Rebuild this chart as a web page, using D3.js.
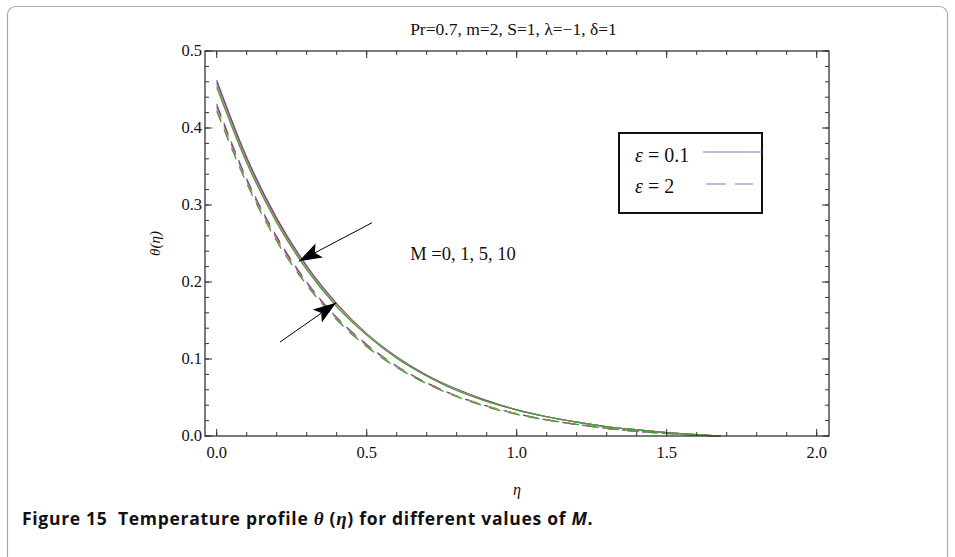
<!DOCTYPE html>
<html>
<head>
<meta charset="utf-8">
<script src="https://cdn.jsdelivr.net/npm/d3@7"></script>
<style>
  body { margin: 0; background: #fff; }
  svg text { fill: #111; }
</style>
</head>
<body>
<div id="container"></div>
<script>
// eta grid shared by all curves
var eta = [0, 0.1, 0.2, 0.3, 0.4, 0.5, 0.6, 0.7, 0.8, 0.9, 1.0, 1.1, 1.2, 1.3, 1.4, 1.5, 1.6, 1.68];

// epsilon = 0.1 (solid), M = 0, 1, 5, 10
var solidM0  = [0.462, 0.362, 0.283, 0.221, 0.172, 0.133, 0.103, 0.079, 0.061, 0.046, 0.034, 0.025, 0.018, 0.012, 0.008, 0.0045, 0.0018, 0];
var solidM1  = [0.459, 0.360, 0.281, 0.219, 0.171, 0.132, 0.102, 0.079, 0.060, 0.046, 0.034, 0.025, 0.018, 0.012, 0.008, 0.0045, 0.0018, 0];
var solidM5  = [0.456, 0.357, 0.279, 0.218, 0.170, 0.132, 0.102, 0.078, 0.060, 0.045, 0.034, 0.025, 0.018, 0.012, 0.008, 0.0044, 0.0018, 0];
var solidM10 = [0.453, 0.355, 0.277, 0.216, 0.168, 0.131, 0.101, 0.078, 0.059, 0.045, 0.034, 0.025, 0.018, 0.012, 0.008, 0.0044, 0.0018, 0];

// epsilon = 2 (dashed), M = 0, 1, 5, 10
var dashM0  = [0.431, 0.334, 0.259, 0.200, 0.154, 0.119, 0.091, 0.069, 0.052, 0.039, 0.029, 0.021, 0.015, 0.010, 0.006, 0.0034, 0.0011, 0];
var dashM1  = [0.428, 0.332, 0.257, 0.199, 0.153, 0.118, 0.090, 0.069, 0.052, 0.039, 0.029, 0.021, 0.015, 0.010, 0.006, 0.0034, 0.0011, 0];
var dashM5  = [0.425, 0.330, 0.255, 0.197, 0.152, 0.117, 0.090, 0.068, 0.052, 0.039, 0.029, 0.021, 0.015, 0.010, 0.006, 0.0033, 0.0011, 0];
var dashM10 = [0.422, 0.328, 0.253, 0.196, 0.151, 0.116, 0.089, 0.068, 0.051, 0.038, 0.028, 0.021, 0.015, 0.010, 0.006, 0.0033, 0.0011, 0];

var xMajor = [0, 0.5, 1.0, 1.5, 2.0];
var xLabels = ["0.0", "0.5", "1.0", "1.5", "2.0"];
var yMajor = [0, 0.1, 0.2, 0.3, 0.4, 0.5];
var yLabels = ["0.0", "0.1", "0.2", "0.3", "0.4", "0.5"];

var legendLabels = ["0.1", "2"];
var annotation = "M =0, 1, 5, 10";
var title = "Pr=0.7, m=2, S=1, \u03bb=\u22121, \u03b4=1";

var colors = ["#5b4fb8", "#a8386a", "#c8a46a", "#3d9a3d"];

var width = 955, height = 557;
var frame = { left: 205, right: 829, top: 51, bottom: 436 };

var svg = d3.select('#container')
  .append('svg')
  .attr('width', width)
  .attr('height', height)
  .style('font-family', '"Liberation Serif", "Times New Roman", serif');

// outer figure box
svg.append('rect')
  .attr('x', 7.5).attr('y', 6.5)
  .attr('width', 940).attr('height', 560)
  .attr('rx', 8)
  .attr('fill', 'none')
  .attr('stroke', '#aaa')
  .attr('stroke-width', 1.2);

var x = d3.scaleLinear()
  .domain([-0.039, 2.041])
  .range([frame.left, frame.right]);

var y = d3.scaleLinear()
  .domain([0, 0.5])
  .range([frame.bottom, frame.top]);

var plot = svg.append('g');

// curves
var line = d3.line()
  .x((d, i) => x(eta[i]))
  .y(d => y(d))
  .curve(d3.curveMonotoneX);

var solids = [solidM0, solidM1, solidM5, solidM10];
var dashes = [dashM0, dashM1, dashM5, dashM10];

plot.selectAll('.dashed')
  .data(dashes)
  .join('path')
  .attr('class', 'dashed')
  .attr('d', d => line(d))
  .attr('fill', 'none')
  .attr('stroke', (d, i) => colors[i])
  .attr('stroke-width', 1.2)
  .attr('stroke-dasharray', '12,8');

plot.selectAll('.solid')
  .data(solids)
  .join('path')
  .attr('class', 'solid')
  .attr('d', d => line(d))
  .attr('fill', 'none')
  .attr('stroke', (d, i) => colors[i])
  .attr('stroke-width', 1.2);

// frame with inward ticks on all sides
var tickColor = '#333';
var xMinor = d3.range(0, 21).map(i => i / 10);
var yMinor = d3.range(0, 26).map(i => i / 50);

function drawTicks(g, vals, len, side) {
  g.selectAll(null)
    .data(vals)
    .join('line')
    .attr('x1', d => side == 'b' || side == 't' ? x(d) : (side == 'l' ? frame.left : frame.right))
    .attr('x2', d => side == 'b' || side == 't' ? x(d) : (side == 'l' ? frame.left + len : frame.right - len))
    .attr('y1', d => side == 'l' || side == 'r' ? y(d) : (side == 'b' ? frame.bottom : frame.top))
    .attr('y2', d => side == 'l' || side == 'r' ? y(d) : (side == 'b' ? frame.bottom - len : frame.top + len))
    .attr('stroke', tickColor)
    .attr('stroke-width', 1);
}

var ticks = plot.append('g');
['b', 't'].forEach(s => { drawTicks(ticks, xMinor, 4, s); drawTicks(ticks, xMajor, 7, s); });
['l', 'r'].forEach(s => { drawTicks(ticks, yMinor, 4, s); drawTicks(ticks, yMajor, 7, s); });

plot.append('rect')
  .attr('x', frame.left).attr('y', frame.top)
  .attr('width', frame.right - frame.left)
  .attr('height', frame.bottom - frame.top)
  .attr('fill', 'none')
  .attr('stroke', '#333')
  .attr('stroke-width', 1.3);

// tick labels
plot.selectAll('.xlab')
  .data(xMajor)
  .join('text')
  .attr('class', 'xlab')
  .attr('x', d => x(d))
  .attr('y', frame.bottom + 22)
  .attr('text-anchor', 'middle')
  .attr('font-size', 16.5)
  .text((d, i) => xLabels[i]);

plot.selectAll('.ylab')
  .data(yMajor)
  .join('text')
  .attr('class', 'ylab')
  .attr('x', frame.left - 3)
  .attr('y', d => y(d) + 5)
  .attr('text-anchor', 'end')
  .attr('font-size', 16.5)
  .text((d, i) => yLabels[i]);

// axis titles
svg.append('text')
  .attr('x', (frame.left + frame.right) / 2)
  .attr('y', 495)
  .attr('text-anchor', 'middle')
  .attr('font-size', 16)
  .attr('font-style', 'italic')
  .text('\u03b7');

svg.append('text')
  .attr('transform', `translate(160, ${(frame.top + frame.bottom) / 2}) rotate(-90)`)
  .attr('text-anchor', 'middle')
  .attr('font-size', 15)
  .attr('font-style', 'italic')
  .text('\u03b8(\u03b7)');

svg.append('text')
  .attr('x', 513.5)
  .attr('y', 35)
  .attr('text-anchor', 'middle')
  .attr('font-size', 17.5)
  .text(title);

// legend
var legend = svg.append('g').attr('transform', 'translate(619,133)');
legend.append('rect')
  .attr('width', 143).attr('height', 80)
  .attr('fill', '#fff')
  .attr('stroke', '#111')
  .attr('stroke-width', 2);

legendLabels.forEach((lab, i) => {
  var t = legend.append('text')
    .attr('x', 16)
    .attr('y', 29 + i * 31)
    .attr('font-size', 20)
    .attr('xml:space', 'preserve');
  t.append('tspan').attr('font-style', 'italic').text('\u03b5');
  t.append('tspan').text(' = ' + lab);
  legend.append('line')
    .attr('x1', i == 0 ? 84 : 87).attr('x2', i == 0 ? 143 : 134)
    .attr('y1', 19 + i * 32).attr('y2', 19 + i * 32)
    .attr('stroke', '#7b74c4')
    .attr('stroke-width', 1.2)
    .attr('stroke-dasharray', i == 0 ? null : '20,9');
});

// annotation + arrows
var defs = svg.append('defs');
defs.append('marker')
  .attr('id', 'head')
  .attr('markerUnits', 'userSpaceOnUse')
  .attr('viewBox', '-24 -10 26 20')
  .attr('refX', 0).attr('refY', 0)
  .attr('markerWidth', 26).attr('markerHeight', 20)
  .attr('orient', 'auto')
  .append('path')
  .attr('d', 'M0,0 L-23,-8 L-18,0 L-23,8 Z')
  .attr('fill', '#000');

var arrows = [
  { from: [0.518, 0.277], to: [0.274, 0.227] },
  { from: [0.211, 0.122], to: [0.398, 0.173] }
];

svg.selectAll('.arrow')
  .data(arrows)
  .join('line')
  .attr('class', 'arrow')
  .attr('x1', d => x(d.from[0])).attr('y1', d => y(d.from[1]))
  .attr('x2', d => x(d.to[0])).attr('y2', d => y(d.to[1]))
  .attr('stroke', '#000')
  .attr('stroke-width', 1)
  .attr('marker-end', 'url(#head)');

svg.append('text')
  .attr('x', x(0.645))
  .attr('y', y(0.229))
  .attr('font-size', 18.5)
  .text(annotation);

// caption
var cap = svg.append('text')
  .attr('x', 22)
  .attr('y', 525)
  .attr('font-family', '"Open Sans", "Noto Sans", sans-serif')
  .attr('font-weight', 'bold')
  .attr('font-size', 17.5)
  .attr('letter-spacing', 0.7)
  .attr('xml:space', 'preserve');
cap.append('tspan').text('Figure 15  Temperature profile ');
cap.append('tspan').attr('font-family', '"Liberation Serif", serif').attr('font-style', 'italic').attr('font-size', 19).text('\u03b8');
cap.append('tspan').text(' (');
cap.append('tspan').attr('font-family', '"Liberation Serif", serif').attr('font-style', 'italic').attr('font-size', 19).text('\u03b7');
cap.append('tspan').text(') for different values of ');
cap.append('tspan').attr('font-style', 'italic').text('M');
cap.append('tspan').text('.');
</script>
</body>
</html>
